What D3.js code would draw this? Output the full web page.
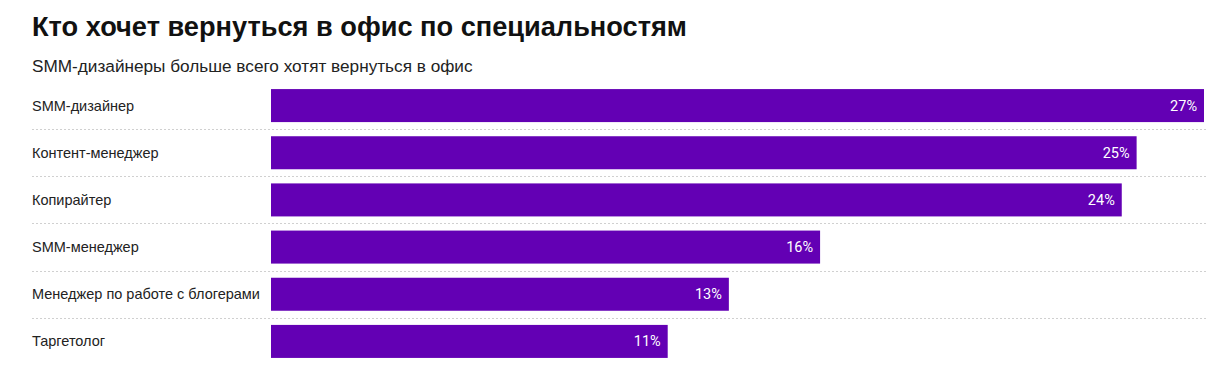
<!DOCTYPE html>
<html><head><meta charset="utf-8">
<script src="https://cdn.jsdelivr.net/npm/d3@7"></script>
<style>
html,body{margin:0;padding:0;background:#fff;}
svg{display:block;font-family:"Liberation Sans", Arial, sans-serif;}
</style></head>
<body><svg id="c" width="1220" height="380"></svg>
<script>
const titleText = "Кто хочет вернуться в офис по специальностям";
const subtitleText = "SMM-дизайнеры больше всего хотят вернуться в офис";
const categories = ["SMM-дизайнер","Контент-менеджер","Копирайтер","SMM-менеджер","Менеджер по работе с блогерами","Таргетолог"];
const values = [27, 25.05, 24.62, 15.89, 13.25, 11.48];
const valueLabels = ["27%","25%","24%","16%","13%","11%"];

const svg = d3.select("#c");
const left = 271, right = 1204, lineX0 = 32, lineX1 = 1207;

svg.append("text").attr("x", 32).attr("y", 36)
  .attr("font-size", 27.2).attr("font-weight", 700).attr("fill", "#111")
  .text(titleText);
svg.append("text").attr("x", 32).attr("y", 72)
  .attr("font-size", 17.2).attr("fill", "#222")
  .text(subtitleText);

const x = d3.scaleLinear().domain([0, d3.max(values)]).range([left, right]);
const y = d3.scaleBand().domain(categories).range([82, 365]).paddingInner(0.3).paddingOuter(0.15);

svg.append("g").selectAll("line").data(categories.slice(0, -1)).join("line")
  .attr("x1", lineX0).attr("x2", lineX1)
  .attr("y1", d => Math.round(y(d) + y.bandwidth() + y.step()*y.paddingInner()/2) + 0.5)
  .attr("y2", d => Math.round(y(d) + y.bandwidth() + y.step()*y.paddingInner()/2) + 0.5)
  .attr("stroke", "#d0d0d0").attr("stroke-width", 1).attr("stroke-dasharray", "2,2");

svg.append("g").selectAll("rect").data(categories).join("rect")
  .attr("x", left).attr("y", d => y(d))
  .attr("width", (d, i) => x(values[i]) - left)
  .attr("height", y.bandwidth())
  .attr("fill", "#6300b4");

svg.append("g").selectAll("text").data(categories).join("text")
  .attr("x", 32).attr("y", d => y(d) + y.bandwidth()/2)
  .attr("dy", "0.35em").attr("font-size", 14.5).attr("fill", "#222")
  .text(d => d);

svg.append("g").selectAll("text").data(categories).join("text")
  .attr("x", (d, i) => x(values[i]) - 7).attr("y", d => y(d) + y.bandwidth()/2)
  .attr("dy", "0.35em").attr("font-size", 14.5).attr("fill", "#fff")
  .attr("font-family", "Roboto, sans-serif")
  .attr("text-anchor", "end")
  .text((d, i) => valueLabels[i]);
</script></body></html>
